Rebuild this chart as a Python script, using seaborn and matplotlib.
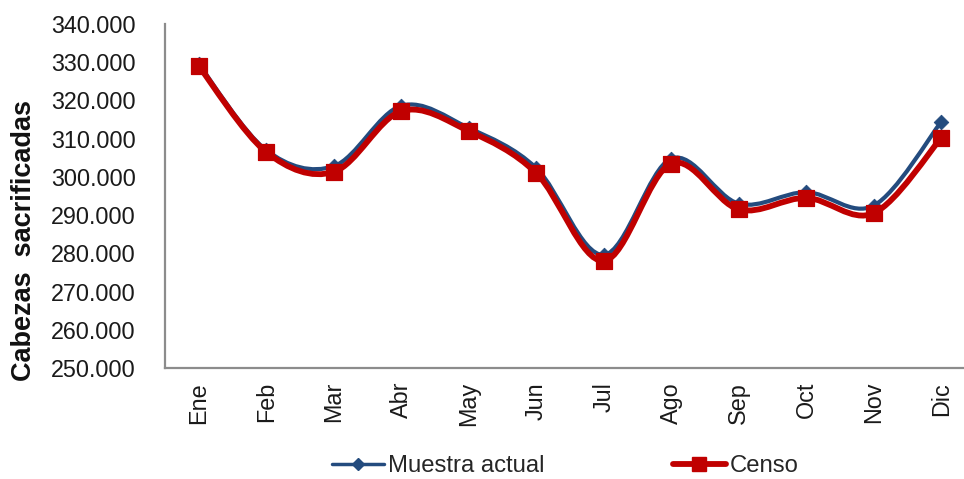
import numpy as np
import matplotlib
matplotlib.use("Agg")
import matplotlib.pyplot as plt
from matplotlib.path import Path
from matplotlib.patches import PathPatch
from matplotlib.lines import Line2D
from matplotlib.ticker import FuncFormatter
import seaborn as sns
import pandas as pd

months = ["Ene", "Feb", "Mar", "Abr", "May", "Jun", "Jul", "Ago", "Sep", "Oct", "Nov", "Dic"]
muestra = [329500, 307000, 302800, 318600, 312800, 302300, 279600, 304800, 293000, 296000, 292500, 314400]
censo = [329000, 306500, 301300, 317200, 312000, 301000, 278000, 303500, 291500, 294500, 290500, 310200]

BLUE = "#234B7E"
RED = "#C00000"

sns.set_theme(style="white")
plt.rcParams["font.family"] = ["Liberation Sans", "DejaVu Sans"]


def smooth_path(xs, ys):
    # excel-like smoothed line: catmull-rom converted to cubic bezier
    pts = np.column_stack([xs, ys]).astype(float)
    ext = np.vstack([pts[0], pts, pts[-1]])
    verts = [pts[0]]
    codes = [Path.MOVETO]
    for i in range(1, len(ext) - 2):
        p0, p1, p2, p3 = ext[i - 1], ext[i], ext[i + 1], ext[i + 2]
        verts += [p1 + (p2 - p0) / 6, p2 - (p3 - p1) / 6, p2]
        codes += [Path.CURVE4] * 3
    return Path(verts, codes)


df = pd.DataFrame({"mes": months, "x": range(len(months)), "muestra": muestra, "censo": censo})

fig = plt.figure(figsize=(9.64, 4.79), dpi=100)
ax = fig.add_axes([165 / 964, 111 / 479, 810 / 964, 344 / 479])

ax.add_patch(PathPatch(smooth_path(df["x"], df["muestra"]), fill=False, ec=BLUE, lw=3.0, zorder=2))
sns.scatterplot(data=df, x="x", y="muestra", marker="D", s=55, color=BLUE, edgecolor=BLUE, ax=ax, zorder=3)
ax.add_patch(PathPatch(smooth_path(df["x"], df["censo"]), fill=False, ec=RED, lw=4.2, zorder=4))
sns.scatterplot(data=df, x="x", y="censo", marker="s", s=120, color=RED, edgecolor=RED, ax=ax, zorder=5)

ax.set_xlim(-0.5, 11.5)
ax.set_ylim(250000, 340000)
ax.set_yticks(np.arange(250000, 340001, 10000))
ax.yaxis.set_major_formatter(FuncFormatter(lambda v, p: f"{v:,.0f}".replace(",", ".")))
ax.set_xticks(df["x"])
ax.set_xticklabels(months, rotation=90)
ax.tick_params(axis="both", length=0, labelsize=16.8, colors="#1a1a1a")
ax.tick_params(axis="y", pad=21)
ax.tick_params(axis="x", pad=10)

ax.set_xlabel("")
ax.set_ylabel("Cabezas  sacrificadas", fontsize=19.5, fontweight="bold", color="#111111")
ax.yaxis.set_label_coords(-0.158, 0.37)

sns.despine(ax=ax)
for side in ["left", "bottom"]:
    ax.spines[side].set_color("#8C8C8C")
    ax.spines[side].set_linewidth(1.6)

handles = [
    Line2D([], [], color=BLUE, lw=2.5, marker="D", markersize=6, label="Muestra actual"),
    Line2D([], [], color=RED, lw=4.2, marker="s", markersize=10, label="Censo"),
]
fig.legend(handles=handles, loc="center", bbox_to_anchor=(0.586, 0.027), ncol=2, frameon=False,
           fontsize=17.2, handlelength=2.2, handletextpad=0.15, columnspacing=5.4)

fig.savefig("out.png", dpi=100, facecolor="white")
